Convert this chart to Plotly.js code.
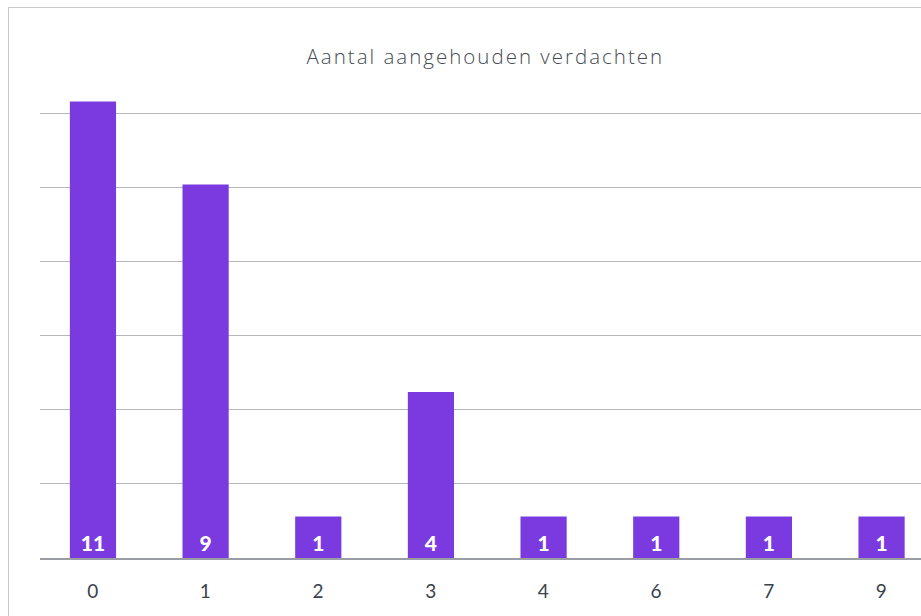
<!DOCTYPE html>
<html>
<head>
<meta charset="utf-8">
<script src="https://cdn.plot.ly/plotly-3.0.1.min.js"></script>
<style>
  html, body { margin: 0; padding: 0; overflow: hidden; background: #fff; }
  #frame { position: absolute; left: 8px; top: 7px; width: 1000px; height: 700px;
           border: 1.5px solid #c9c9c9; box-sizing: border-box; }
  #chartDiv { position: absolute; left: 0; top: 0; width: 921px; height: 616px; }
  #chartDiv .gtitle { letter-spacing: 2px; }
  #chartDiv .xtick text { letter-spacing: 0.5px; }
</style>
</head>
<body>
<div id="frame"></div>
<div id="chartDiv"></div>
<script>
// aantal verdachten per categorie
const categories = ['0', '1', '2', '3', '4', '6', '7', '9'];
const counts = [11, 9, 1, 4, 1, 1, 1, 1];
const valueLabels = ['11', '9', '1', '4', '1', '1', '1', '1'];

const trace = {
  x: categories,
  y: counts,
  type: 'bar',
  text: valueLabels,
  textposition: 'inside',
  insidetextanchor: 'start',
  constraintext: 'none',
  textfont: { family: 'Lato', size: 21, color: '#ffffff', weight: 900 },
  marker: { color: '#7b3adf' },
  hoverinfo: 'none'
};

const layout = {
  width: 921,
  height: 616,
  margin: { l: 40, r: 0, t: 89, b: 58 },
  paper_bgcolor: 'rgba(0,0,0,0)',
  plot_bgcolor: 'rgba(0,0,0,0)',
  showlegend: false,
  bargap: 0.59,
  title: {
    text: 'Aantal aangehouden verdachten',
    font: { family: 'Open Sans', size: 20.5, color: '#454c54', weight: 300 },
    x: 0.527,
    xanchor: 'center',
    y: 0.907,
    yanchor: 'middle'
  },
  xaxis: {
    type: 'category',
    range: [-0.47, 7.35],
    showgrid: false,
    showline: true,
    linecolor: '#9a9ea4',
    linewidth: 1.5,
    ticks: '',
    ticklabelstandoff: 16,
    tickfont: { family: 'Lato', size: 19, color: '#3a424b' }
  },
  yaxis: {
    range: [0, 11.3],
    dtick: 74 / 41.5,
    tick0: 0,
    showticklabels: false,
    showgrid: true,
    gridcolor: '#b4b7bb',
    gridwidth: 1,
    zeroline: false,
    showline: false
  }
};

Plotly.newPlot('chartDiv', [trace], layout, { displayModeBar: false, staticPlot: true });
</script>
</body>
</html>
